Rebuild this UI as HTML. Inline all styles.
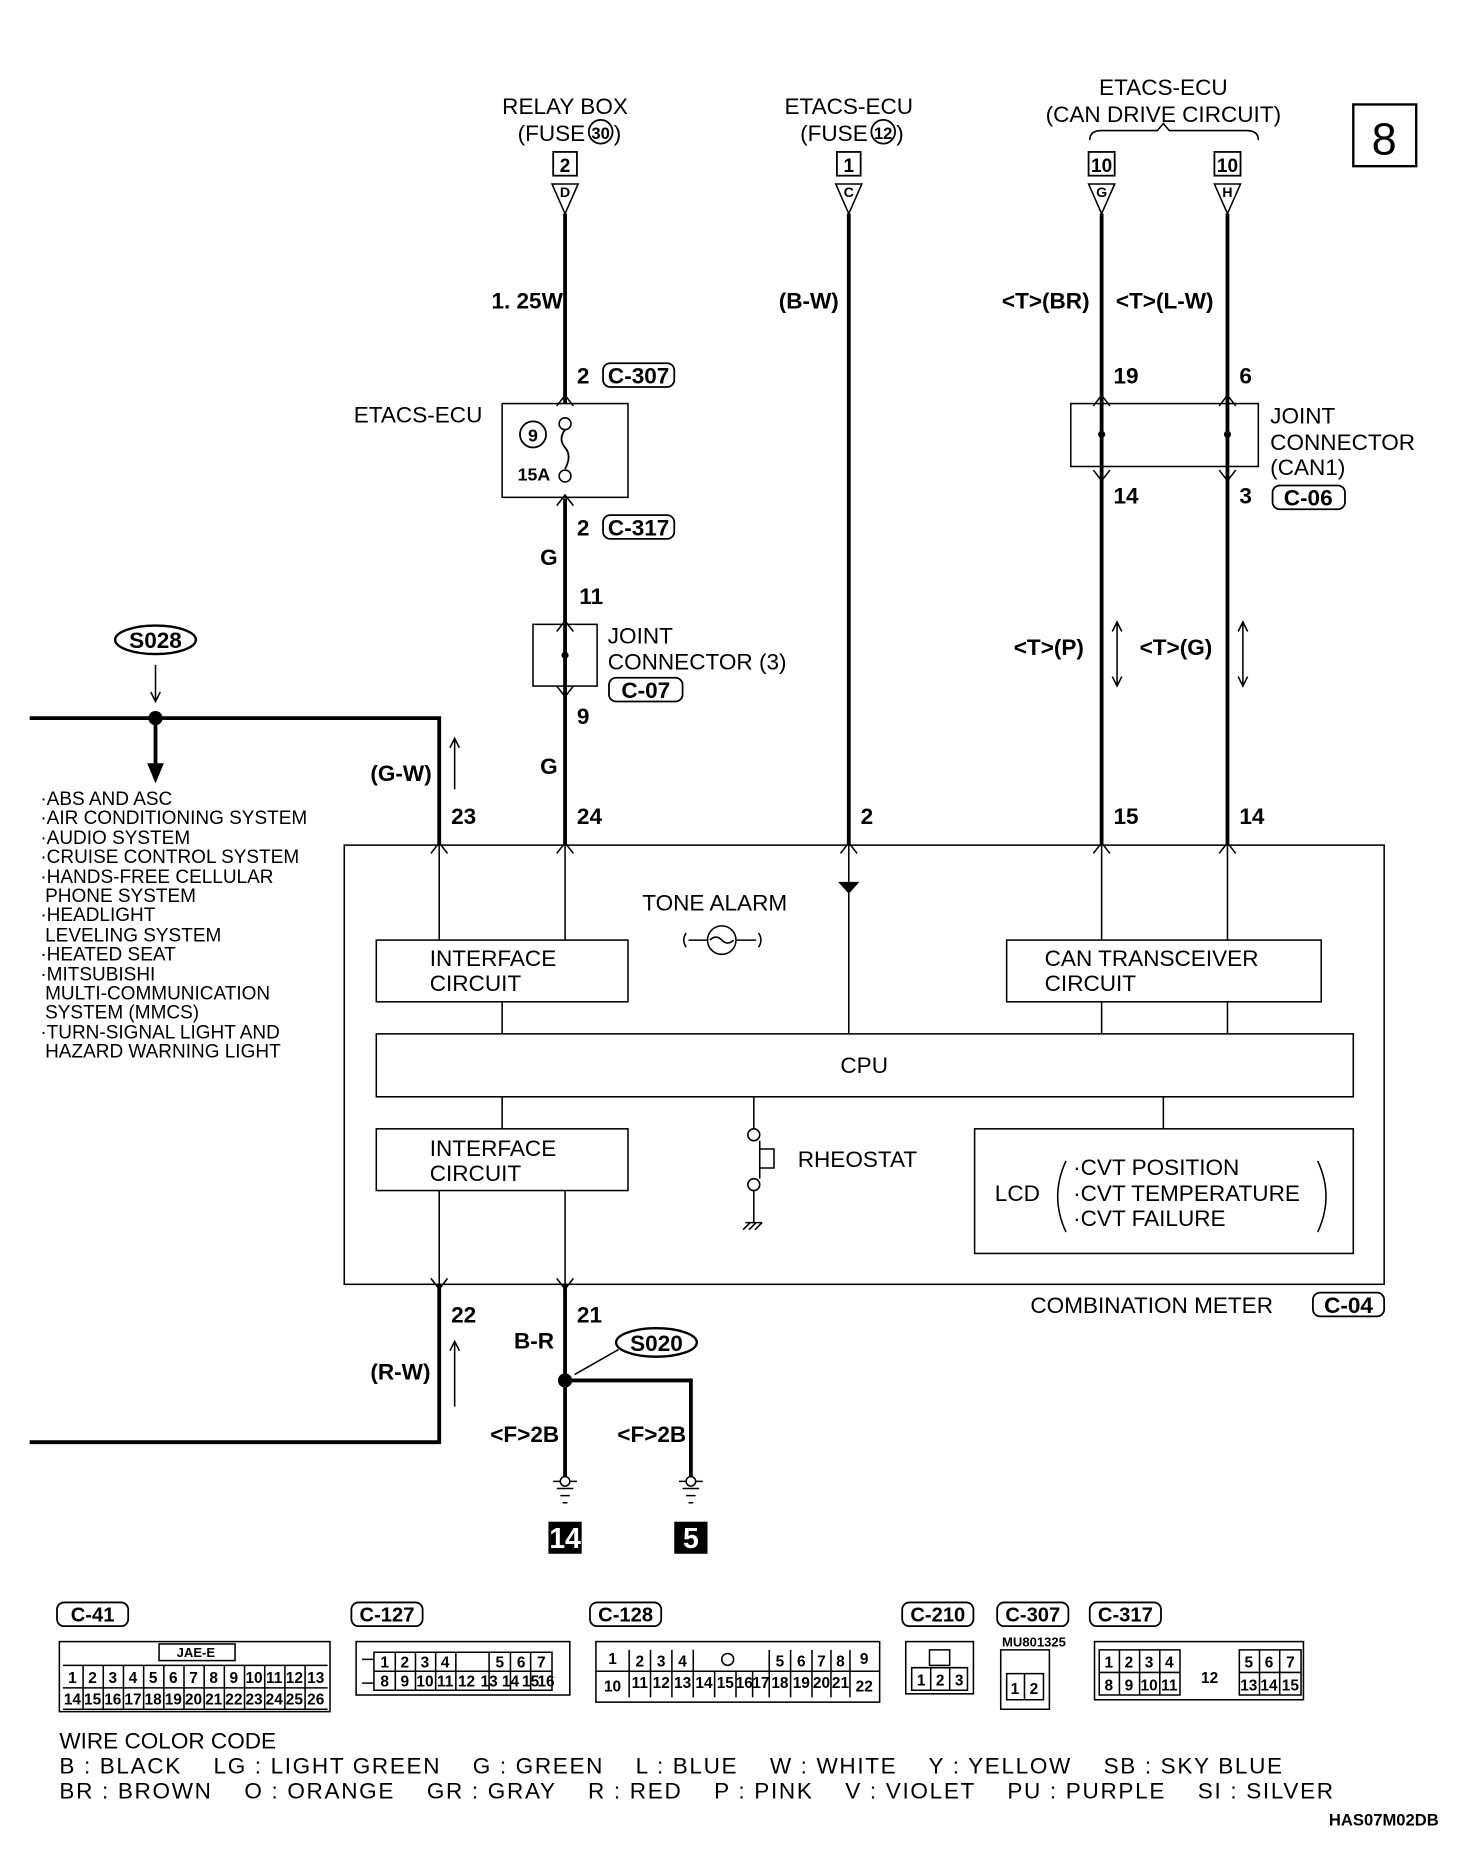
<!DOCTYPE html>
<html><head><meta charset="utf-8"><style>
html,body{margin:0;padding:0;background:#fff}
svg{display:block}
text{font-family:"Liberation Sans",sans-serif;fill:#000}
.t{font-size:19px}
.s{font-size:16px}
.b{font-weight:bold}
</style></head><body>
<svg width="1472" height="1860" viewBox="0 0 1240 1567" preserveAspectRatio="none" xmlns="http://www.w3.org/2000/svg">
<g fill="none" stroke="#000" stroke-width="1.3">
<rect x="1140" y="88" width="53" height="52" stroke-width="2"/>
<rect x="290" y="712" width="876" height="370"/>
<rect x="317" y="792" width="212" height="52"/>
<rect x="848" y="792" width="265" height="52"/>
<rect x="317" y="871" width="823" height="53"/>
<rect x="317" y="951" width="212" height="52"/>
<rect x="821" y="951" width="319" height="105"/>
<rect x="423" y="340" width="106" height="79"/>
<rect x="449" y="526" width="54" height="52"/>
<rect x="902" y="340" width="158" height="53"/>
<path d="M370 712V792M476 712V792M715 712V871M928 712V792M1034 712V792M423 844V871M1034 844V871M928 844V871M423 924V951M980 924V951M370 1003V1082M476 1003V1082"/>
<circle cx="635" cy="956" r="5"/><circle cx="635" cy="998" r="5"/>
<path d="M635 924V951M635 1003V1030M628 1030H642M626 1036L632 1030M631 1036L637 1030M636 1036L642 1030M640 961V993M640 968H652V984H640"/>
<circle cx="608" cy="792" r="12"/><path d="M598 792q5-5 10 0t10 0M578 786q-4 6 0 12M639 786q4 6 0 12M580 792H596M620 792H637"/>
<path d="M898 978q-14 30 0 60M1110 978q14 30 0 60"/>
<path d="M383 665V622M379 630L383 622L387 630M383 1185V1130M379 1138L383 1130L387 1138M941 578V524M937 532L941 524L945 532M937 570L941 578L945 570M1047 578V524M1043 532L1047 524L1051 532M1043 570L1047 578L1051 570M131 560V590M127 583L131 591L135 583"/>
<path d="M918 118q0-8 10-8H975l5-6 5 6H1050q10 0 10 8"/>
</g>
<g fill="none" stroke="#000" stroke-width="3.2">
<path d="M476 180V340M476 420V712M715 180V712M928 180V712M1034 180V712"/>
<path d="M25 605H370V712M131 605V645M25 1215H370V1082M476 1082V1245M476 1163H582V1245"/>
</g>
<path d="M124 643H138L131 660Z" fill="#000"/>
<g fill="none" stroke="#000" stroke-width="1.3">
<circle cx="476" cy="357" r="5" fill="#fff"/><circle cx="476" cy="401" r="5" fill="#fff"/>
<path d="M476 362q-6 8 0 15t0 18" stroke-width="1.5"/>
<path d="M465 155L476 180L487 155ZM704 155L715 180L726 155ZM917 155L928 180L939 155ZM1023 155L1034 180L1045 155Z" fill="#fff"/>
<path d="M469 342L476 333L483 342M469 426L476 417L483 426M469 532L476 523L483 532M469 578L476 587L483 578M469 719L476 710L483 719M708 719L715 710L722 719M921 719L928 710L935 719M1027 719L1034 710L1041 719M363 719L370 710L377 719M921 342L928 333L935 342M1027 342L1034 333L1041 342M921 396L928 405L935 396M1027 396L1034 405L1041 396M363 1077L370 1086L377 1077M469 1077L476 1086L483 1077"/>
<path d="M466 1248H486M469 1254H483M472 1260H480M474 1266H478M572 1248H592M575 1254H589M578 1260H586M580 1266H584"/>
<circle cx="476" cy="1248" r="4" fill="#fff"/><circle cx="582" cy="1248" r="4" fill="#fff"/>
<ellipse cx="131" cy="539" rx="34" ry="12" stroke-width="2"/>
<ellipse cx="553" cy="1131" rx="34" ry="12" stroke-width="2"/>
<path d="M521 1137L484 1158"/>
</g>
<path d="M706 743H724L715 753Z" fill="#000"/>
<g fill="#000"><circle cx="131" cy="605" r="6"/><circle cx="476" cy="1163" r="6"/><circle cx="476" cy="552" r="3"/><circle cx="928" cy="366" r="3"/><circle cx="1034" cy="366" r="3"/></g>
<g fill="#fff" stroke="#000" stroke-width="1.5">
<rect x="466" y="128" width="20" height="20"/><rect x="705" y="128" width="20" height="20"/><rect x="917" y="128" width="22" height="20"/><rect x="1023" y="128" width="22" height="20"/>
<rect x="508" y="306" width="60" height="20" rx="6"/><rect x="508" y="434" width="60" height="20" rx="6"/><rect x="513" y="571" width="62" height="20" rx="6"/><rect x="1072" y="409" width="61" height="20" rx="6"/><rect x="1106" y="1089" width="60" height="20" rx="6"/>
<circle cx="506" cy="111" r="10"/><circle cx="744" cy="111" r="10"/><circle cx="449" cy="366" r="11"/>
</g>
<rect x="462" y="1282" width="28" height="27" fill="#000"/><rect x="568" y="1282" width="28" height="27" fill="#000"/>
<g class="t">
<text x="1166" y="130" font-size="38" text-anchor="middle">8</text>
<text x="476" y="96" text-anchor="middle">RELAY BOX</text>
<text x="493" y="119" text-anchor="end">(FUSE</text><text x="517" y="119">)</text>
<text x="715" y="96" text-anchor="middle">ETACS-ECU</text>
<text x="731" y="119" text-anchor="end">(FUSE</text><text x="755" y="119">)</text>
<text x="980" y="80" text-anchor="middle">ETACS-ECU</text>
<text x="980" y="103" text-anchor="middle">(CAN DRIVE CIRCUIT)</text>
<text x="298" y="356">ETACS-ECU</text>
<text x="512" y="542">JOINT</text><text x="512" y="564">CONNECTOR (3)</text>
<text x="1070" y="357">JOINT</text><text x="1070" y="379">CONNECTOR</text><text x="1070" y="400">(CAN1)</text>
<text x="541" y="767">TONE ALARM</text>
<text x="362" y="814">INTERFACE</text><text x="362" y="835">CIRCUIT</text>
<text x="880" y="814">CAN TRANSCEIVER</text><text x="880" y="835">CIRCUIT</text>
<text x="728" y="904" text-anchor="middle">CPU</text>
<text x="362" y="974">INTERFACE</text><text x="362" y="995">CIRCUIT</text>
<text x="672" y="983">RHEOSTAT</text>
<text x="838" y="1012">LCD</text>
<text x="904" y="990">·CVT POSITION</text><text x="904" y="1012">·CVT TEMPERATURE</text><text x="904" y="1033">·CVT FAILURE</text>
<text x="868" y="1106">COMBINATION METER</text>
</g>
<g class="t b" font-size="18">
<text x="476" y="145" text-anchor="middle" font-size="16">2</text><text x="715" y="145" text-anchor="middle" font-size="16">1</text><text x="928" y="145" text-anchor="middle" font-size="16">10</text><text x="1034" y="145" text-anchor="middle" font-size="16">10</text>
<text x="476" y="166" text-anchor="middle" font-size="12">D</text><text x="715" y="166" text-anchor="middle" font-size="12">C</text><text x="928" y="166" text-anchor="middle" font-size="12">G</text><text x="1034" y="166" text-anchor="middle" font-size="12">H</text>
<text x="506" y="117" text-anchor="middle" font-size="14">30</text><text x="744" y="117" text-anchor="middle" font-size="14">12</text>
<text x="449" y="372" text-anchor="middle" font-size="15">9</text><text x="436" y="405" font-size="15">15A</text>
<text x="414" y="260">1. 25W</text><text x="656" y="260">(B-W)</text><text x="844" y="260">&lt;T&gt;(BR)</text><text x="940" y="260">&lt;T&gt;(L-W)</text>
<text x="486" y="323">2</text><text x="538" y="323" text-anchor="middle">C-307</text>
<text x="486" y="451">2</text><text x="538" y="451" text-anchor="middle">C-317</text>
<text x="455" y="476">G</text><text x="488" y="509">11</text><text x="486" y="610">9</text><text x="455" y="652">G</text>
<text x="544" y="588" text-anchor="middle">C-07</text>
<text x="938" y="323">19</text><text x="1044" y="323">6</text><text x="938" y="424">14</text><text x="1044" y="424">3</text>
<text x="1102" y="426" text-anchor="middle">C-06</text>
<text x="854" y="552">&lt;T&gt;(P)</text><text x="960" y="552">&lt;T&gt;(G)</text>
<text x="312" y="658">(G-W)</text>
<text x="380" y="694">23</text><text x="486" y="694">24</text><text x="725" y="694">2</text><text x="938" y="694">15</text><text x="1044" y="694">14</text>
<text x="380" y="1114">22</text><text x="486" y="1114">21</text>
<text x="1136" y="1106" text-anchor="middle">C-04</text>
<text x="433" y="1136">B-R</text><text x="312" y="1162">(R-W)</text>
<text x="553" y="1138" text-anchor="middle">S020</text><text x="131" y="546" text-anchor="middle">S028</text>
<text x="413" y="1215">&lt;F&gt;2B</text><text x="520" y="1215">&lt;F&gt;2B</text>
<text x="476" y="1304" text-anchor="middle" style="fill:#fff" font-size="24">14</text>
<text x="582" y="1304" text-anchor="middle" style="fill:#fff" font-size="24">5</text>
</g>
<g class="s">
<text x="34" y="678">·ABS AND ASC</text><text x="34" y="694">·AIR CONDITIONING SYSTEM</text><text x="34" y="711">·AUDIO SYSTEM</text><text x="34" y="727">·CRUISE CONTROL SYSTEM</text><text x="34" y="744">·HANDS-FREE CELLULAR</text><text x="38" y="760">PHONE SYSTEM</text><text x="34" y="776">·HEADLIGHT</text><text x="38" y="793">LEVELING SYSTEM</text><text x="34" y="809">·HEATED SEAT</text><text x="34" y="826">·MITSUBISHI</text><text x="38" y="842">MULTI-COMMUNICATION</text><text x="38" y="858">SYSTEM (MMCS)</text><text x="34" y="875">·TURN-SIGNAL LIGHT AND</text><text x="38" y="891">HAZARD WARNING LIGHT</text>
</g>
<g fill="#fff" stroke="#000" stroke-width="1.5">
<rect x="48" y="1350" width="60" height="20" rx="6"/><rect x="296" y="1350" width="60" height="20" rx="6"/><rect x="497" y="1350" width="60" height="20" rx="6"/><rect x="760" y="1350" width="60" height="20" rx="6"/><rect x="840" y="1350" width="60" height="20" rx="6"/><rect x="918" y="1350" width="60" height="20" rx="6"/>
</g>
<g class="b" font-size="17" text-anchor="middle">
<text x="78" y="1366">C-41</text><text x="326" y="1366">C-127</text><text x="527" y="1366">C-128</text><text x="790" y="1366">C-210</text><text x="870" y="1366">C-307</text><text x="948" y="1366">C-317</text>
<text x="871" y="1387" font-size="11">MU801325</text>
</g>
<g fill="none" stroke="#000" stroke-width="1.3">
<rect x="50" y="1383" width="228" height="59"/><path d="M53 1403H276M53 1422H276M53 1440H276M70 1403V1440M87 1403V1440M104 1403V1440M121 1403V1440M138 1403V1440M155 1403V1440M172 1403V1440M189 1403V1440M206 1403V1440M223 1403V1440M240 1403V1440M257 1403V1440"/>
<rect x="134" y="1385" width="64" height="14"/>
<rect x="300" y="1383" width="180" height="45"/><path d="M315 1392H465V1424H315ZM315 1408H465M333 1392V1424M350 1392V1424M367 1392V1424M384 1392V1424M412 1392V1424M430 1392V1424M447 1392V1424M305 1398H315V1418H305"/>
<rect x="502" y="1383" width="239" height="51"/><path d="M502 1408H741M530 1390V1430M548 1390V1430M566 1390V1430M584 1390V1430M648 1390V1430M666 1390V1430M684 1390V1430M700 1390V1430M716 1390V1430M602 1408V1430M620 1408V1430M634 1408V1430"/><circle cx="613" cy="1398" r="5"/>
<rect x="763" y="1383" width="57" height="44"/><path d="M768 1405H815V1424H768ZM784 1405V1424M800 1405V1424M783 1390H800V1403H783Z"/>
<path d="M843 1390H884V1440H843ZM848 1410H879V1432H848ZM863 1410V1432"/>
<rect x="922" y="1383" width="176" height="49"/><path d="M926 1390H994V1428H926ZM926 1409H994M943 1390V1428M960 1390V1428M977 1390V1428M1044 1390H1096V1428H1044ZM1044 1409H1096M1061 1390V1428M1078 1390V1428"/>
</g>
<g font-size="13" text-anchor="middle" class="b">
<text x="165" y="1396" font-size="11">JAE-E</text>
<text x="61" y="1418">1</text><text x="78" y="1418">2</text><text x="95" y="1418">3</text><text x="112" y="1418">4</text><text x="129" y="1418">5</text><text x="146" y="1418">6</text><text x="163" y="1418">7</text><text x="180" y="1418">8</text><text x="197" y="1418">9</text><text x="214" y="1418">10</text><text x="231" y="1418">11</text><text x="248" y="1418">12</text><text x="266" y="1418">13</text>
<text x="61" y="1436">14</text><text x="78" y="1436">15</text><text x="95" y="1436">16</text><text x="112" y="1436">17</text><text x="129" y="1436">18</text><text x="146" y="1436">19</text><text x="163" y="1436">20</text><text x="180" y="1436">21</text><text x="197" y="1436">22</text><text x="214" y="1436">23</text><text x="231" y="1436">24</text><text x="248" y="1436">25</text><text x="266" y="1436">26</text>
<text x="324" y="1405">1</text><text x="341" y="1405">2</text><text x="358" y="1405">3</text><text x="375" y="1405">4</text><text x="421" y="1405">5</text><text x="439" y="1405">6</text><text x="456" y="1405">7</text>
<text x="324" y="1421">8</text><text x="341" y="1421">9</text><text x="358" y="1421">10</text><text x="375" y="1421">11</text><text x="393" y="1421">12</text><text x="412" y="1421">13</text><text x="430" y="1421">14</text><text x="447" y="1421">15</text><text x="460" y="1421">16</text>
<text x="516" y="1402">1</text><text x="539" y="1404">2</text><text x="557" y="1404">3</text><text x="575" y="1404">4</text><text x="657" y="1404">5</text><text x="675" y="1404">6</text><text x="692" y="1404">7</text><text x="708" y="1404">8</text><text x="728" y="1402">9</text>
<text x="516" y="1425">10</text><text x="539" y="1422">11</text><text x="557" y="1422">12</text><text x="575" y="1422">13</text><text x="593" y="1422">14</text><text x="611" y="1422">15</text><text x="627" y="1422">16</text><text x="641" y="1422">17</text><text x="657" y="1422">18</text><text x="675" y="1422">19</text><text x="692" y="1422">20</text><text x="708" y="1422">21</text><text x="728" y="1425">22</text>
<text x="776" y="1420">1</text><text x="792" y="1420">2</text><text x="808" y="1420">3</text>
<text x="855" y="1427">1</text><text x="871" y="1427">2</text>
<text x="934" y="1405">1</text><text x="951" y="1405">2</text><text x="968" y="1405">3</text><text x="985" y="1405">4</text><text x="1052" y="1405">5</text><text x="1069" y="1405">6</text><text x="1087" y="1405">7</text>
<text x="934" y="1424">8</text><text x="951" y="1424">9</text><text x="968" y="1424">10</text><text x="985" y="1424">11</text><text x="1019" y="1418">12</text><text x="1052" y="1424">13</text><text x="1069" y="1424">14</text><text x="1087" y="1424">15</text>
</g>
<g class="t">
<text x="50" y="1473">WIRE COLOR CODE</text>
<text x="50" y="1494" xml:space="preserve" textLength="1030" lengthAdjust="spacing">B : BLACK    LG : LIGHT GREEN    G : GREEN    L : BLUE    W : WHITE    Y : YELLOW    SB : SKY BLUE</text>
<text x="50" y="1515" xml:space="preserve" textLength="1073" lengthAdjust="spacing">BR : BROWN    O : ORANGE    GR : GRAY    R : RED    P : PINK    V : VIOLET    PU : PURPLE    SI : SILVER</text>
<text x="1212" y="1538" text-anchor="end" font-size="14" font-weight="bold">HAS07M02DB</text>
</g>
</svg>
</body></html>
